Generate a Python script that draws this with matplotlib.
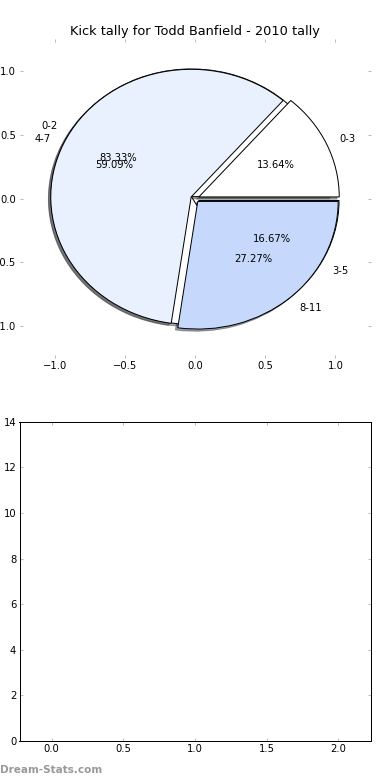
import matplotlib
matplotlib.use('Agg')
import matplotlib.pyplot as plt

# first pie (drawn underneath)
labels_a = ['0-2', '3-5']
values_a = [5, 1]
# second pie (drawn on top)
labels_b = ['0-3', '4-7', '8-11']
values_b = [3, 13, 6]

pie_colors = ['#ffffff', '#eaf1fe', '#c6d9fd']
title = 'Kick tally for Todd Banfield - 2010 tally'

pie_ticks = [-1.0, -0.5, 0.0, 0.5, 1.0]
bar_xticks = [0.0, 0.5, 1.0, 1.5, 2.0]
bar_yticks = [0, 2, 4, 6, 8, 10, 12, 14]

plt.rcParams['font.size'] = 12
plt.rcParams['font.family'] = 'DejaVu Sans'

fig = plt.figure(figsize=(6.5, 13), dpi=60)
fig.subplots_adjust(left=0.05, right=0.95, top=0.95, bottom=0.05, hspace=0.2)

ax1 = fig.add_subplot(2, 1, 1)
wedge_style = {'edgecolor': 'black', 'linewidth': 1.2}
ax1.pie(values_a, labels=labels_a, colors=pie_colors[:len(values_a)],
        autopct='%1.2f%%', shadow=True, explode=[0.03] * len(values_a),
        wedgeprops=wedge_style, textprops={'fontsize': 12})
ax1.pie(values_b, labels=labels_b, colors=pie_colors,
        autopct='%1.2f%%', shadow=True, explode=[0.03] * len(values_b),
        wedgeprops=wedge_style, textprops={'fontsize': 12})
ax1.set_aspect('auto')
ax1.set_frame_on(False)
ax1.set_xlim(-1.25, 1.25)
ax1.set_ylim(-1.25, 1.25)
ax1.set_xticks(pie_ticks)
ax1.set_yticks(pie_ticks)
ax1.set_xticklabels(['\u22121.0', '\u22120.5', '0.0', '0.5', '1.0'])
ax1.set_yticklabels(['\u22121.0', '\u22120.5', '0.0', '0.5', '1.0'])
ax1.tick_params(direction='in', length=4, width=1.2, color='#bbbbbb',
                top=True, right=True, pad=4, labelsize=12)
ax1.set_title(title, fontsize=15.5, pad=5)

ax2 = fig.add_subplot(2, 1, 2)
ax2.set_xlim(-0.225, 2.225)
ax2.set_ylim(0, 14)
ax2.set_xticks(bar_xticks)
ax2.set_yticks(bar_yticks)
ax2.tick_params(direction='in', length=4, width=1.2, color='#bbbbbb',
                top=True, right=True, pad=4, labelsize=12)
for sp in ax2.spines.values():
    sp.set_linewidth(1.2)

fig.text(0.0, 0.0128, 'Dream-Stats.com', fontsize=12.5, color='#999999',
         fontweight='bold', ha='left', va='center')

fig.savefig('out.png', dpi=60)
